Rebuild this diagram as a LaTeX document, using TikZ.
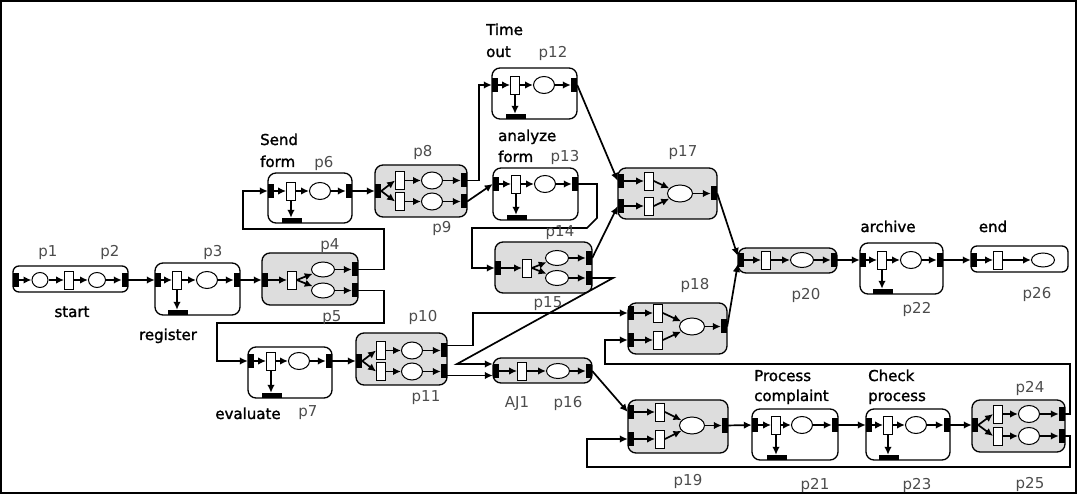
\documentclass[tikz,border=0pt]{standalone}
\usepackage{fontspec}
\setmainfont{DejaVu Sans}
\newfontfamily\heavyfont{DejaVu Sans}[FakeBold=1.5]
\usetikzlibrary{shapes.geometric,arrows.meta}
\definecolor{modgray}{RGB}{221,221,221}
\tikzset{
 port/.style={rectangle,fill=black,draw=none,minimum width=6pt,minimum height=14pt,inner sep=0pt},
 trans/.style={rectangle,draw=black,fill=white,line width=0.8pt,minimum width=9pt,minimum height=18pt,inner sep=0pt},
 place/.style={ellipse,draw=black,fill=white,line width=1pt,minimum width=21pt,minimum height=17pt,inner sep=0pt},
 gplace/.style={place,minimum width=23pt,minimum height=15pt},
 bar/.style={rectangle,fill=black,draw=none,minimum width=20pt,minimum height=5pt,inner sep=0pt},
 modw/.style={draw=black,line width=1.3pt,rounded corners=8pt,fill=white},
 modg/.style={modw,fill=modgray},
 arr/.style={-{Latex[length=8pt,width=7.5pt]},line width=1.7pt},
 lbl/.style={font=\heavyfont\fontsize{15}{18}\selectfont,inner sep=0pt,anchor=base},
 lblw/.style={lbl,anchor=base west},
 pl/.style={font=\fontsize{15}{18}\selectfont,inner sep=0pt,anchor=base,text=black!70},
}
% white module with timer bar
\newcommand\pnModW[8]{%
 \draw[modw] (#2,#3) rectangle (#4,#5);
 \node[port] (#1i) at ({#2+3},#6) {};
 \node[port] (#1o) at ({#4-3},#6) {};
 \node[trans] (#1t) at (#7,#6) {};
 \node[place] (#1p) at (#8,#6) {};
 \node[bar] (#1b) at ({#7+1},{#5-2.5}) {};
 \draw[arr] (#1i) -- (#1t);
 \draw[arr] (#1t) -- (#1p);
 \draw[arr] (#1p) -- (#1o);
 \draw[arr] (#1t.south) -- (#1t.south |- #1b.north);
}
% gray: one transition, split into two places
\newcommand\pnModSA[9]{%
 \draw[modg] (#2,#3) rectangle (#4,#5);
 \node[port] (#1i) at ({#2+3},#6) {};
 \node[trans] (#1t) at (#7,#6) {};
 \node[gplace] (#1p1) at (#8,{#6-#9}) {};
 \node[gplace] (#1p2) at (#8,{#6+#9}) {};
 \node[port] (#1o1) at ({#4-3},{#6-#9}) {};
 \node[port] (#1o2) at ({#4-3},{#6+#9}) {};
 \draw[arr] (#1i) -- (#1t);
 \draw[arr] (#1t.east) -- (#1p1);
 \draw[arr] (#1t.east) -- (#1p2);
 \draw[arr] (#1p1) -- (#1o1);
 \draw[arr] (#1p2) -- (#1o2);
}
% gray: split into two transitions
\newcommand\pnModSB[9]{%
 \draw[modg] (#2,#3) rectangle (#4,#5);
 \node[port] (#1i) at ({#2+3},#6) {};
 \node[trans] (#1t1) at (#7,{#6-#9}) {};
 \node[trans] (#1t2) at (#7,{#6+#9}) {};
 \node[place] (#1p1) at (#8,{#6-#9}) {};
 \node[place] (#1p2) at (#8,{#6+#9}) {};
 \node[port] (#1o1) at ({#4-3},{#6-#9}) {};
 \node[port] (#1o2) at ({#4-3},{#6+#9}) {};
 \draw[arr] (#1i.east) -- (#1t1.west);
 \draw[arr] (#1i.east) -- (#1t2.west);
 \draw[arr] (#1t1) -- (#1p1);
 \draw[arr] (#1t2) -- (#1p2);
 \draw[arr] (#1p1) -- (#1o1);
 \draw[arr] (#1p2) -- (#1o2);
}
% gray: join of two inputs
\newcommand\pnModJ[9]{%
 \draw[modg] (#2,#3) rectangle (#4,#5);
 \node[port] (#1i1) at ({#2+3},#6) {};
 \node[port] (#1i2) at ({#2+3},#7) {};
 \node[trans] (#1t1) at (#8,#6) {};
 \node[trans] (#1t2) at (#8,#7) {};
 \node[gplace,minimum width=25pt,minimum height=17pt] (#1p) at (#9,{(#6+#7)/2}) {};
 \node[port] (#1o) at ({#4-3},{(#6+#7)/2}) {};
 \draw[arr] (#1i1) -- (#1t1);
 \draw[arr] (#1i2) -- (#1t2);
 \draw[arr] (#1t1.east) -- (#1p);
 \draw[arr] (#1t2.east) -- (#1p);
 \draw[arr] (#1p) -- (#1o);
}
% gray: simple sequence
\newcommand\pnModS[8]{%
 \draw[modg] (#2,#3) rectangle (#4,#5);
 \node[port] (#1i) at ({#2+3},#6) {};
 \node[trans] (#1t) at (#7,#6) {};
 \node[gplace] (#1p) at (#8,#6) {};
 \node[port] (#1o) at ({#4-3},#6) {};
 \draw[arr] (#1i) -- (#1t);
 \draw[arr] (#1t) -- (#1p);
 \draw[arr] (#1p) -- (#1o);
}
\begin{document}
\begin{tikzpicture}[x=1pt,y=-1pt]
\useasboundingbox (0,0) rectangle (1077,494);
\draw[line width=1.2pt] (1,1) rectangle (1076,493);

% start module
\draw[modw,rounded corners=6pt] (13,266) rectangle (128,292);
\node[port] (sti) at (16,280) {};
\node[place,minimum width=16pt,minimum height=15pt] (stp1) at (40,280) {};
\node[trans] (stt) at (69,280) {};
\node[place,minimum width=17pt,minimum height=15pt] (stp2) at (97,280) {};
\node[port] (sto) at (125,280) {};
\draw[arr] (sti) -- (stp1);
\draw[arr] (stp1) -- (stt);
\draw[arr] (stt) -- (stp2);
\draw[arr] (stp2) -- (sto);

\pnModW{r}{155}{263}{240}{315}{280}{177}{207}
\pnModSA{q}{262}{253}{358}{305}{280}{292}{323}{10.5}
\pnModW{s}{268}{173}{352}{223}{191}{291}{320}
\pnModSB{e}{375}{165}{467}{217}{191}{400}{432}{10.5}
\pnModW{tm}{492}{68}{577}{119}{85}{515}{544}
\pnModW{an}{493}{168}{578}{220}{184}{516}{545}
\pnModSA{f}{495}{242}{592}{293}{268}{527}{557}{10}
\pnModJ{j}{618}{168}{717}{219}{181}{206}{649}{680}
\pnModW{ev}{248}{347}{332}{398}{361}{271}{299}
\pnModSB{k}{356}{333}{447}{385}{361}{381}{412}{10.5}
\pnModS{aj}{493}{358}{592}{383}{371}{522}{558}
\pnModJ{m}{628}{303}{727}{354}{313}{340}{658}{692}
\pnModJ{n}{628}{400}{728}{453}{412}{439}{660}{692}
\pnModS{w}{738}{248}{837}{273}{260}{766}{802}
\pnModW{ar}{860}{243}{943}{294}{260}{882}{911}
\pnModW{pc}{752}{409}{838}{460}{425}{776}{802}
\pnModW{ck}{866}{409}{950}{460}{425}{888}{916}
\pnModSB{z}{972}{400}{1065}{452}{425}{998}{1029}{11}

% end module
\draw[modw,rounded corners=6pt] (971,246) rectangle (1068,272);
\node[port] (eni) at (974,260) {};
\node[trans] (ent) at (998,260) {};
\node[gplace,minimum width=23pt,minimum height=14pt] (enp) at (1043,260) {};
\draw[arr] (eni) -- (ent);
\draw[arr] (ent) -- (enp);

% wiring coordinates
\coordinate (ca) at (384,229);
\coordinate (cb) at (243,229);
\coordinate (cc) at (384,323);
\coordinate (cd) at (217,323);
\coordinate (ce) at (479,85);
\coordinate (cf) at (597,218);
\coordinate (cg) at (587,228);
\coordinate (ch) at (472,228);
\coordinate (ci) at (613,278);
\coordinate (cj) at (457,364);
\coordinate (ck1) at (473,313);
\coordinate (cl) at (1070,364);
\coordinate (cm) at (605,364);
\coordinate (cn) at (1070,467);
\coordinate (co) at (587,467);

% connectors
\draw[arr] (sto) -- (ri);
\draw[arr] (ro) -- (qi);
\draw[arr] (qo1.east) -| (ca) -- (cb) |- (si.west);
\draw[arr] (qo2.east) -| (cc) -- (cd) |- (evi.west);
\draw[arr] (so) -- (ei);
\draw[arr] (eo1.east) -| (ce) -- (tmi.west);
\draw[arr] (eo2.east) -- (ani.west);
\draw[arr] (tmo.east) -- (ji1.west);
\draw[arr] (ano.east) -| (cf) -- (cg) -- (ch) |- (fi.west);
\draw[arr] (fo1.east) -- (ji2.west);
\draw[arr] (fo2.east) -- (ci) -- (cj) -- (cj -| aji.west);
\draw[arr] (evo) -- (ki);
\draw[arr] ([yshift=5pt]ko1.east) -| (ck1) -- (mi1.west);
\draw[arr] ([yshift=-4pt]ko2.east) -- ([yshift=-4pt]ko2.east -| aji.west);
\draw[arr] (ajo.east) -- (ni1.west);
\draw[arr] (jo.east) -- ([yshift=4pt]wi.west);
\draw[arr] (mo.east) -- ([yshift=-4pt]wi.west);
\draw[arr] (wo) -- (ari);
\draw[arr] (aro) -- (eni);
\draw[arr] (no) -- (pci);
\draw[arr] (pco) -- (cki);
\draw[arr] (cko) -- (zi);
\draw[arr] (zo1.east) -| (cl) -- (cm) |- (mi2.west);
\draw[arr] (zo2.east) -| (cn) -- (co) |- (ni2.west);

% labels
\node[pl] (lp1) at (48,257) {p1};
\node[pl] (lp2) at (110,257) {p2};
\node[pl] (lp3) at (213,257) {p3};
\node[lbl] (lstart) at (72,317) {start};
\node[lbl] (lreg) at (168,340) {register};
\node[lblw] (lsend) at (260,145) {Send};
\node[lblw] (lform) at (260,167) {form};
\node[pl] (lp6) at (324,168) {p6};
\node[pl] (lp8) at (423,157) {p8};
\node[pl] (lp9) at (442,233) {p9};
\node[pl] (lp4) at (330,250) {p4};
\node[pl] (lp5) at (332,322) {p5};
\node[lblw] (ltime) at (486,35) {Time};
\node[lblw] (lout) at (486,57) {out};
\node[pl] (lp12) at (553,58) {p12};
\node[lblw] (lana) at (498,141) {analyze};
\node[lblw] (lform2) at (498,162) {form};
\node[pl] (lp13) at (565,162) {p13};
\node[pl] (lp14) at (560,237) {p14};
\node[pl] (lp15) at (548,308) {p15};
\node[pl] (lp17) at (683,157) {p17};
\node[pl] (lp10) at (423,322) {p10};
\node[pl] (lp11) at (426,402) {p11};
\node[lbl] (leval) at (248,419) {evaluate};
\node[pl] (lp7) at (308,417) {p7};
\node[pl] (laj) at (517,407) {AJ1};
\node[pl] (lp16) at (568,407) {p16};
\node[pl] (lp18) at (695,290) {p18};
\node[pl] (lp19) at (688,485) {p19};
\node[lbl] (larch) at (888,232) {archive};
\node[pl] (lp22) at (917,314) {p22};
\node[lbl] (lend) at (993,232) {end};
\node[pl] (lp26) at (1037,299) {p26};
\node[pl] (lp20) at (806,300) {p20};
\node[lblw] (lproc) at (754,381) {Process};
\node[lblw] (lcomp) at (754,401) {complaint};
\node[pl] (lp21) at (815,489) {p21};
\node[lblw] (lcheck) at (868,381) {Check};
\node[lblw] (lprocess) at (868,401) {process};
\node[pl] (lp23) at (917,489) {p23};
\node[pl] (lp24) at (1030,392) {p24};
\node[pl] (lp25) at (1030,488) {p25};
\end{tikzpicture}
\end{document}
